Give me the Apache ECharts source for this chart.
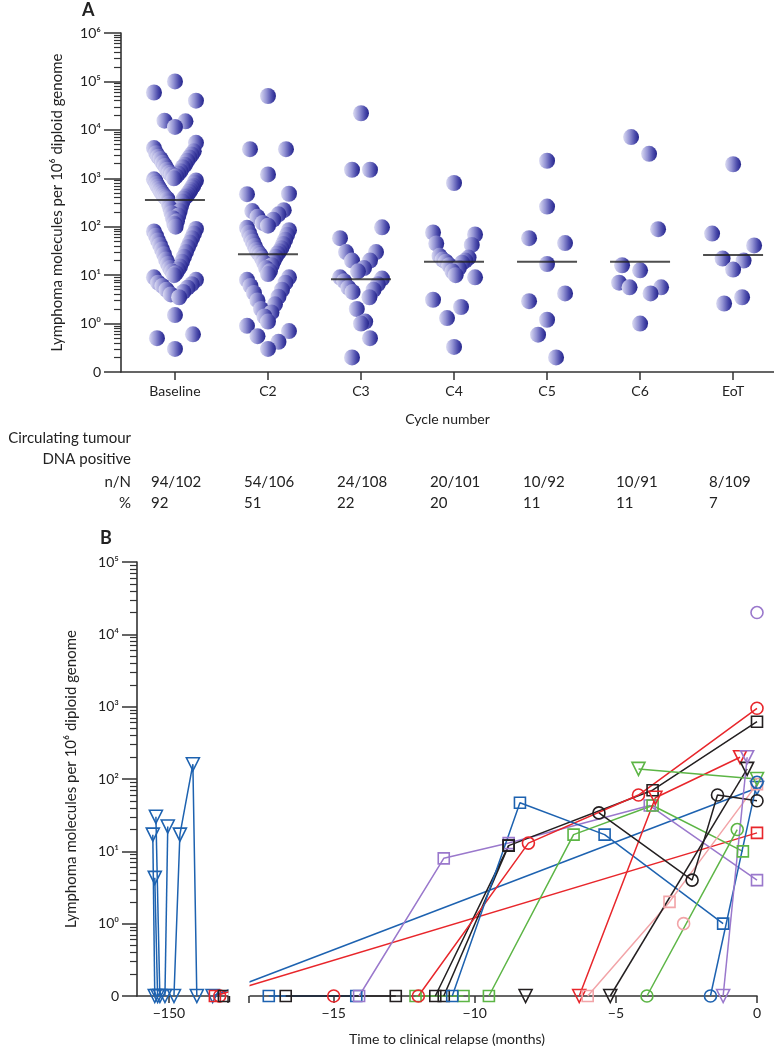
<!DOCTYPE html>
<html><head><meta charset="utf-8">
<script src="https://cdn.jsdelivr.net/npm/echarts@6/dist/echarts.min.js"></script>
<style>html,body{margin:0;padding:0;background:#fff}#c{width:774px;height:1050px}</style>
</head><body><div id="c"></div>
<script>
// ---------- Panel A data ----------
const cycles = ['Baseline', 'C2', 'C3', 'C4', 'C5', 'C6', 'EoT'];
const baseline = [100000, 59000, 40000, 15000, 15500, 11500, 5400,
  4200, 3600, 3300, 3100, 2800, 2700, 2500, 2300, 2100, 1900, 1800, 1700, 1500, 1400, 1300, 1250, 1200, 1100, 1000, 950,
  900, 880, 820, 760, 700, 680, 650, 610, 570, 540, 530, 500, 470, 450, 430, 420, 410, 390, 380, 370,
  330, 300, 270, 240, 210, 190, 170, 150, 130, 115, 100, 90, 80, 72, 65, 58, 52, 47, 42, 38,
  34, 30, 27, 24, 21, 19, 17, 15, 14, 13, 12, 11, 10, 9, 8, 7, 6.5, 6, 5.5, 5, 4.5, 4, 3.5,
  1.5, 0.6, 0.5, 0.3];
const c2 = [50000, 4000, 4000, 1200, 480, 470, 220, 210,
  180, 160, 140, 120, 105, 95, 85, 75, 68, 60, 54, 49, 44, 40, 36, 33, 31, 29, 28,
  26, 24, 22, 20, 18, 16, 14, 12, 10.5, 9, 8, 7, 6, 5, 4.3, 3.6, 3, 2.5, 2, 1.7, 1.4, 1.1, 0.9, 0.7, 0.55, 0.42, 0.3];
const c3 = [22000, 1500, 1500, 97, 58, 30, 30, 20, 20, 14, 12, 9, 8.5, 7.5, 6.5, 5.5, 5, 4.5, 3.5, 2, 1.1, 1, 0.5, 0.2];
const c4 = [800, 76, 69, 45, 42, 25, 23, 21, 20, 19, 18, 16, 14, 12, 10, 9, 3.1, 2.2, 1.3, 0.33];
const c5 = [2300, 260, 58, 46, 17, 4.2, 2.9, 1.2, 0.59, 0.2];
const c6 = [7100, 3200, 89, 16, 12.6, 7, 5.6, 5.6, 4.2, 1.0];
const eot = [1950, 72, 41, 22, 20, 13, 3.5, 2.6];
const medians = [355, 27, 8.2, 19, 19, 19, 26];
const nN = ['94/102', '54/106', '24/108', '20/101', '10/92', '10/91', '8/109'];
const pct = ['92', '51', '22', '20', '11', '11', '7'];
const yTickLogA = [-1, 0, 1, 2, 3, 4, 5, 6];   // -1 shown as "0"

// ---------- Panel B data (months, molecules; 0 = undetectable) ----------
const xTicksB = [-150, -15, -10, -5, 0];
const yTickLogB = [-1, 0, 1, 2, 3, 4, 5];
const blueTriA = [[-150.57, 17], [-150.5, 0]];
const blueTriB = [[-150.46, 30], [-150.32, 0]];
const blueTriC = [[-150.5, 4.3], [-150.4, 0]];
const blueTriD = [[-150.14, 0], [-150.04, 22]];
const blueTriE = [[-149.82, 0], [-149.61, 17], [-149.15, 160], [-149.01, 0]];
const blueLong = [[-148.45, 0], [0, 75]];
const redLong = [[-148.37, 0], [0, 18]];
const redCircLeft = [[-148.2, 0]];
const blackSqLeft = [[-148.05, 0]];
const blueSqZero = [[-17.3, 0], [-14.2, 0]];
const blackSqZero = [[-16.7, 0], [-12.8, 0]];
const redCircZero = [[-15.0, 0]];
const greenSqZero = [[-12.1, 0], [-10.4, 0]];
const blackTriZero = [[-8.2, 0]];
const purpleSq = [[-14.1, 0], [-11.1, 8], [-8.8, 13], [-3.8, 43], [0, 4]];
const blackSqA = [[-11.4, 0], [-8.8, 12], [-3.7, 70], [0, 620]];
const blackSqB = [[-11.1, 0], [-8.8, 12]];
const redCirc = [[-12.0, 0], [-8.1, 13], [-4.2, 60], [0, 950]];
const blueSq = [[-10.8, 0], [-8.4, 47], [-5.4, 17], [-1.2, 1]];
const greenSq = [[-9.5, 0], [-6.5, 17], [-3.7, 43], [-0.5, 10]];
const redTri = [[-6.3, 0], [-3.6, 55], [-0.6, 200]];
const pinkSq = [[-6.0, 0], [-3.1, 2], [0, 85]];
const pinkCirc = [[-2.6, 1]];
const blackTri = [[-5.2, 0], [-0.35, 138]];
const blackCirc = [[-5.6, 34], [-2.3, 4], [-1.4, 60], [0, 50]];
const greenCirc = [[-3.9, 0], [-0.7, 20]];
const greenTri = [[-4.2, 138], [0, 100]];
const blueCirc = [[-1.65, 0], [0, 90]];
const purpleTri = [[-1.2, 0], [-0.35, 200]];
const purpleCirc = [[0, 20000]];

// ---------- build ----------
const FONT = 'Lato';
const SUP = {'0':'\u2070','1':'\u00b9','2':'\u00b2','3':'\u00b3','4':'\u2074','5':'\u2075','6':'\u2076'};
const logv = v => v <= 0 ? -1 : Math.log10(v);
const tickLabel = v => { const n = Math.round(v); return n < 0 ? '0' : '10' + SUP[String(n)]; };
function minorTicks(lo, hi) { const r = []; for (let n = lo; n < hi; n++) for (let k = 2; k <= 9; k++) r.push(n + Math.log10(k)); return r; }

const COL = {blue:'#1d62b0', red:'#e8262b', black:'#231f20', green:'#5cb545', purple:'#9a78cc', pink:'#f2a4a8'};
const SYM = {sq:['rect',11,0], ci:['circle',12,0], tr:['triangle',13,180]};

// Panel A layout constants
const gA = {left:121, top:33, width:653, height:339};
const xMinA = -0.58, xMaxA = 6.44;
const groups = [baseline, c2, c3, c4, c5, c6, eot];
const MAXW = 21, DX = 18;
// Prism-like layout: points grouped in bands one decade tall, spread symmetrically,
// higher values on the outside of each band (gives the V-shaped columns).
function rowsLayout(vals, pxX) {
  const bins = new Map();
  vals.forEach((v, i) => {
    const b = Math.floor(logv(v) + 1);
    if (!bins.has(b)) bins.set(b, []);
    bins.get(b).push(i);
  });
  const off = new Array(vals.length).fill(0);
  let flip = 1;
  bins.forEach(list => {
    const n = list.length;
    if (n === 1) { off[list[0]] = 0; return; }
    const s = Math.min(DX, 2 * MAXW / (n - 1));
    const pos = [];
    for (let j = 0; j < n; j++) pos.push((j - (n - 1) / 2) * s);
    pos.sort((a, b) => Math.abs(b) - Math.abs(a) || flip * (a - b));
    flip = -flip;
    list.sort((a, b) => vals[b] - vals[a]);
    list.forEach((i, k) => { off[i] = pos[k] / pxX; });
  });
  return off;
}
const pxX = gA.width / (xMaxA - xMinA);
const dotColor = {type:'linear', x:0, y:0, x2:1, y2:0, colorStops:[
  {offset:0, color:'#dcdcf3'}, {offset:0.4, color:'#9494d4'}, {offset:0.75, color:'#4b4bab'}, {offset:1, color:'#24248b'}]};
const series = [];
groups.forEach((vals, g) => {
  const off = rowsLayout(vals, pxX);
  series.push({type:'scatter', xAxisIndex:0, yAxisIndex:0, symbol:'circle', symbolSize:16, silent:true,
    itemStyle:{color:dotColor, opacity:1}, data: vals.map((v, i) => [g + off[i], logv(v)]), z:2});
});
series.push({type:'scatter', xAxisIndex:0, yAxisIndex:0, symbol:'rect', symbolSize:[60, 2], silent:true,
  itemStyle:{color:'#222'}, data: medians.map((m, i) => [i, logv(m)]), z:5});

// Panel B
const patients = [
  [blueTriA,'blue','tr'], [blueTriB,'blue','tr'], [blueTriC,'blue','tr'], [blueTriD,'blue','tr'], [blueTriE,'blue','tr'],
  [blueLong,'blue','tr'], [redLong,'red','sq'], [redCircLeft,'red','ci'], [blackSqLeft,'black','sq'],
  [blueSqZero,'blue','sq'], [blackSqZero,'black','sq'], [redCircZero,'red','ci'], [greenSqZero,'green','sq'], [blackTriZero,'black','tr'],
  [purpleSq,'purple','sq'], [blackSqA,'black','sq'], [blackSqB,'black','sq'], [redCirc,'red','ci'], [blueSq,'blue','sq'],
  [greenSq,'green','sq'], [redTri,'red','tr'], [pinkSq,'pink','sq'], [pinkCirc,'pink','ci'], [blackTri,'black','tr'],
  [blackCirc,'black','ci'], [greenCirc,'green','ci'], [greenTri,'green','tr'], [blueCirc,'blue','ci'], [purpleTri,'purple','tr'], [purpleCirc,'purple','ci']
];
patients.forEach(([pts, c, s]) => {
  const [sym, size, rot] = SYM[s];
  series.push({type:'line', xAxisIndex:2, yAxisIndex:2, symbol:sym, symbolSize:size, symbolRotate:rot, showSymbol:true,
    silent:true, animation:false, clip:false,
    lineStyle:{color:COL[c], width:1.5}, itemStyle:{color:'rgba(0,0,0,0)', borderColor:COL[c], borderWidth:1.6},
    data: pts.map(p => [p[0], logv(p[1])]), z:3});
});

const txt = {fontFamily:FONT, fontSize:14, color:'#222'};
const nameTxt = {fontFamily:FONT, fontSize:15, color:'#222'};
const axisLineStyle = {lineStyle:{color:'#333', width:1.6}};
const gB = {left:137, top:562, width:620, height:434};
const hiddenY = (gi, lo, hi) => ({gridIndex:gi, type:'value', position:'left', min:lo, max:hi,
  axisLine:{show:false, onZero:false}, splitLine:{show:false}, axisLabel:{show:false},
  axisTick:{show:true, customValues:minorTicks(lo, hi), length:7, lineStyle:{color:'#333', width:1.2}}});

const option = {
  animation:false,
  textStyle:{fontFamily:FONT},
  grid:[
    Object.assign({containLabel:false}, gA),
    Object.assign({containLabel:false}, gA),
    Object.assign({containLabel:false}, gB),
    Object.assign({containLabel:false}, gB)
  ],
  xAxis:[
    {gridIndex:0, type:'value', min:xMinA, max:xMaxA, axisLine:Object.assign({onZero:false}, axisLineStyle),
     splitLine:{show:false},
     axisTick:{customValues:[0,1,2,3,4,5,6], length:8, lineStyle:{color:'#333', width:1.5}},
     axisLabel:Object.assign({customValues:[0,1,2,3,4,5,6], formatter:v => cycles[Math.round(v)], margin:12}, txt),
     name:'Cycle number', nameLocation:'middle', nameGap:40, nameTextStyle:txt},
    {gridIndex:1, type:'value', min:xMinA, max:xMaxA, show:false, axisLine:{onZero:false}},
    {gridIndex:2, type:'value', min:-151.13, max:0,
     breaks:[{start:-147.9, end:-18, gap:0.74}],
     breakArea:{show:true, expandOnClick:false, zigzagAmplitude:0, itemStyle:{color:'#fff', borderColor:'#fff', borderWidth:0, opacity:1}},
     axisLine:Object.assign({onZero:false}, axisLineStyle), splitLine:{show:false},
     axisTick:{customValues:[-150, -147.9, -18, -15, -10, -5, 0], length:7, lineStyle:{color:'#333', width:1.5}},
     axisLabel:Object.assign({customValues:xTicksB, formatter:v => (v < 0 ? '\u2212' + Math.abs(v) : '0'), margin:10}, txt),
     name:'Time to clinical relapse (months)', nameLocation:'middle', nameGap:36, nameTextStyle:txt},
    {gridIndex:3, type:'value', min:-151.13, max:0, show:false, axisLine:{onZero:false}}
  ],
  yAxis:[
    {gridIndex:0, type:'value', position:'left', min:-1, max:6, axisLine:Object.assign({show:true, onZero:false}, axisLineStyle), splitLine:{show:false},
     axisTick:{customValues:yTickLogA, length:17, lineStyle:{color:'#333', width:1.5}},
     axisLabel:Object.assign({customValues:yTickLogA, formatter:tickLabel, margin:20}, txt),
     name:'Lymphoma molecules per 10\u2076 diploid genome', nameLocation:'middle', nameGap:56, nameTextStyle:nameTxt},
    hiddenY(1, -1, 6),
    {gridIndex:2, type:'value', position:'left', min:-1, max:5, axisLine:Object.assign({show:true, onZero:false}, axisLineStyle), splitLine:{show:false},
     axisTick:{customValues:yTickLogB, length:15, lineStyle:{color:'#333', width:1.5}},
     axisLabel:Object.assign({customValues:yTickLogB, formatter:tickLabel, margin:18}, txt),
     name:'Lymphoma molecules per 10\u2076 diploid genome', nameLocation:'middle', nameGap:58, nameTextStyle:nameTxt},
    hiddenY(3, -1, 5)
  ],
  series
};
const chart = echarts.init(document.getElementById('c'), null, {renderer:'canvas'});
chart.setOption(option);

// table text and panel letters
const tstyle = {fontFamily:FONT, fontSize:15, fill:'#222'};
const g = [
  {type:'text', left:82, top:1, style:Object.assign({}, tstyle, {text:'A', fontSize:18, fontWeight:'bold'})},
  {type:'text', left:100, top:529, style:Object.assign({}, tstyle, {text:'B', fontSize:18, fontWeight:'bold'})},
  {type:'text', x:131, y:438, style:Object.assign({}, tstyle, {text:'Circulating tumour', align:'right', verticalAlign:'middle'})},
  {type:'text', x:131, y:459, style:Object.assign({}, tstyle, {text:'DNA positive', align:'right', verticalAlign:'middle'})},
  {type:'text', x:131, y:482, style:Object.assign({}, tstyle, {text:'n/N', align:'right', verticalAlign:'middle'})},
  {type:'text', x:131, y:503, style:Object.assign({}, tstyle, {text:'%', align:'right', verticalAlign:'middle'})}
];
cycles.forEach((c, i) => {
  const px = chart.convertToPixel({xAxisIndex:0}, i);
  g.push({type:'text', x:px - 24, y:482, style:Object.assign({}, tstyle, {text:nN[i], align:'left', verticalAlign:'middle'})});
  g.push({type:'text', x:px - 24, y:503, style:Object.assign({}, tstyle, {text:pct[i], align:'left', verticalAlign:'middle'})});
});
chart.setOption({graphic:g});
</script></body></html>
